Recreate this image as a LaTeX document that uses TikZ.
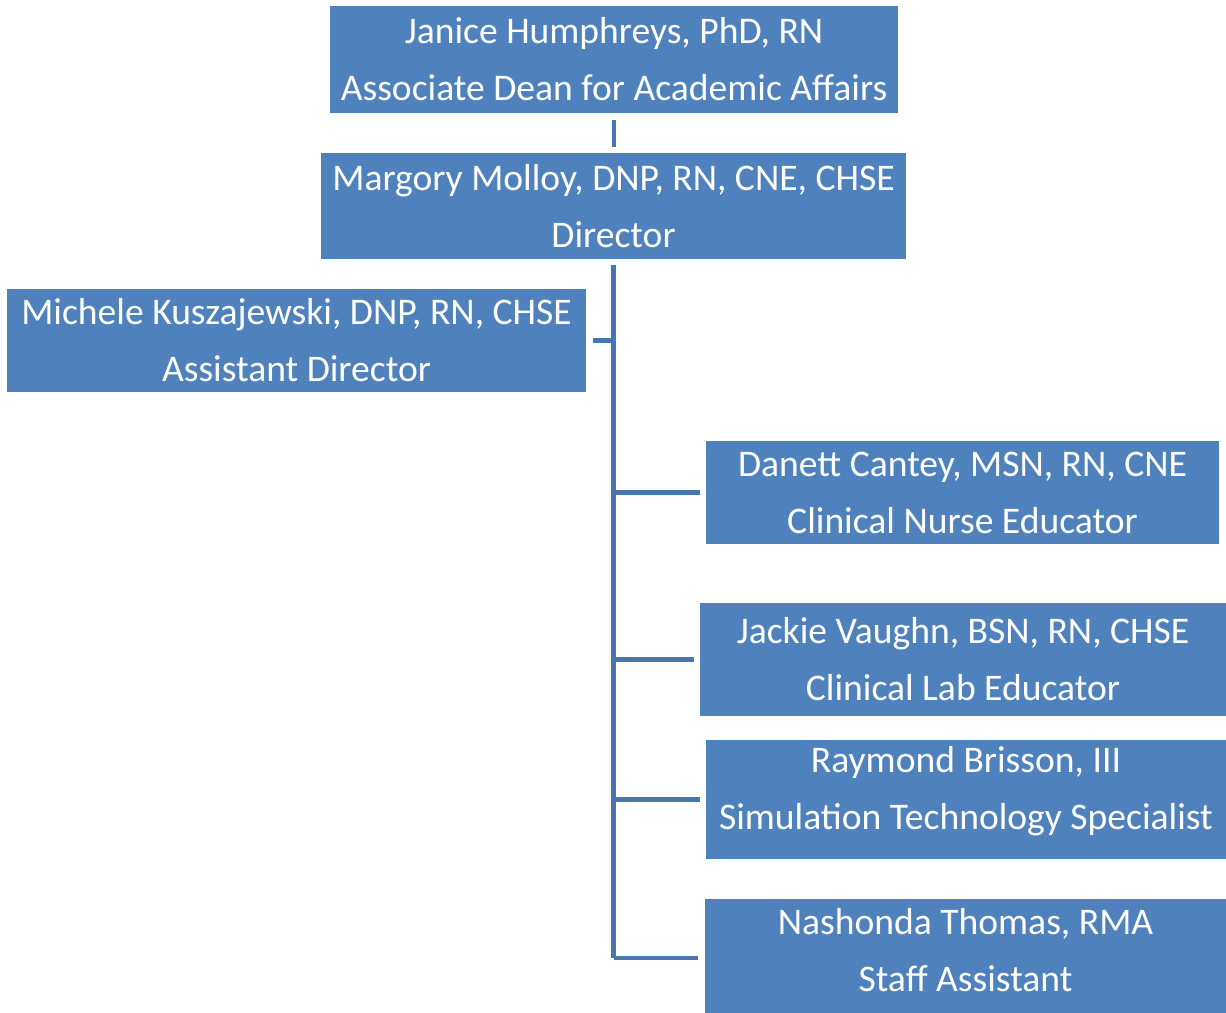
\documentclass[tikz,border=0pt]{standalone}
\usepackage{fontspec}
\setmainfont{Carlito}
\usetikzlibrary{positioning}

\definecolor{boxblue}{HTML}{4F81BD}
\definecolor{linkblue}{HTML}{4A76B0}

\tikzset{
  staff box/.style = {
    fill = boxblue,
    text = white,
    align = center,
    inner sep = 0pt,
    font = \fontsize{21.4}{32.4}\selectfont,
  },
  link/.style = {
    draw = linkblue,
    line width = 2.8pt,
  },
}

\begin{document}
\begin{tikzpicture}[x = 0.02cm, y = -0.02cm]
        \useasboundingbox (0,0) rectangle (1226,1013);

        \node [staff box, minimum width = 11.36cm, minimum height = 2.14cm] (dean) at (614,59.5) {
          Janice Humphreys, PhD, RN\\Associate Dean for Academic Affairs};
        \node [staff box, minimum width = 11.70cm, minimum height = 2.12cm] (dir) at (613.5,206) {
          Margory Molloy, DNP, RN, CNE, CHSE\\Director};
        \node [staff box, minimum width = 11.58cm, minimum height = 2.06cm] (asst) at (296.5,340.5) {
          Michele Kuszajewski, DNP, RN, CHSE\\Assistant Director};

        \node [staff box, minimum width = 10.26cm, minimum height = 2.06cm] (nurse) at (962.5,492.5) {
          Danett Cantey, MSN, RN, CNE\\Clinical Nurse Educator};
        \node [staff box, minimum width = 10.52cm, minimum height = 2.26cm] (lab) at (963,659.5) {
          Jackie Vaughn, BSN, RN, CHSE\\Clinical Lab Educator};
        \node [staff box, minimum width = 10.40cm, minimum height = 2.38cm, text depth = 0.46cm] (tech) at (966,799.5) {
          Raymond Brisson, III\\Simulation Technology Specialist};
        \node [staff box, minimum width = 10.42cm, minimum height = 2.28cm, text depth = 0.26cm] (assist) at (965.5,956) {
          Nashonda Thomas, RMA\\Staff Assistant};

        \coordinate (trunk end) at (dir.south |- 0,958);

        \draw [link, shorten <= 0.14cm, shorten >= 0.12cm] (dean.south) to (dean.south |- dir.north);
        \draw [link, shorten <= 0.12cm] (dir.south) to (trunk end);

        \draw [link, shorten >= 0.14cm] (dir.south |- asst.east) to (asst.east);
        \draw [link, shorten >= 0.12cm] (dir.south |- nurse.west) to (nurse.west);
        \draw [link, shorten >= 0.12cm] (dir.south |- lab.west) to (lab.west);
        \draw [link, shorten >= 0.12cm] (dir.south |- tech.west) to (tech.west);
        \draw [link, shorten >= 0.14cm] (trunk end) to (trunk end -| assist.west);
      \end{tikzpicture}
\end{document}
